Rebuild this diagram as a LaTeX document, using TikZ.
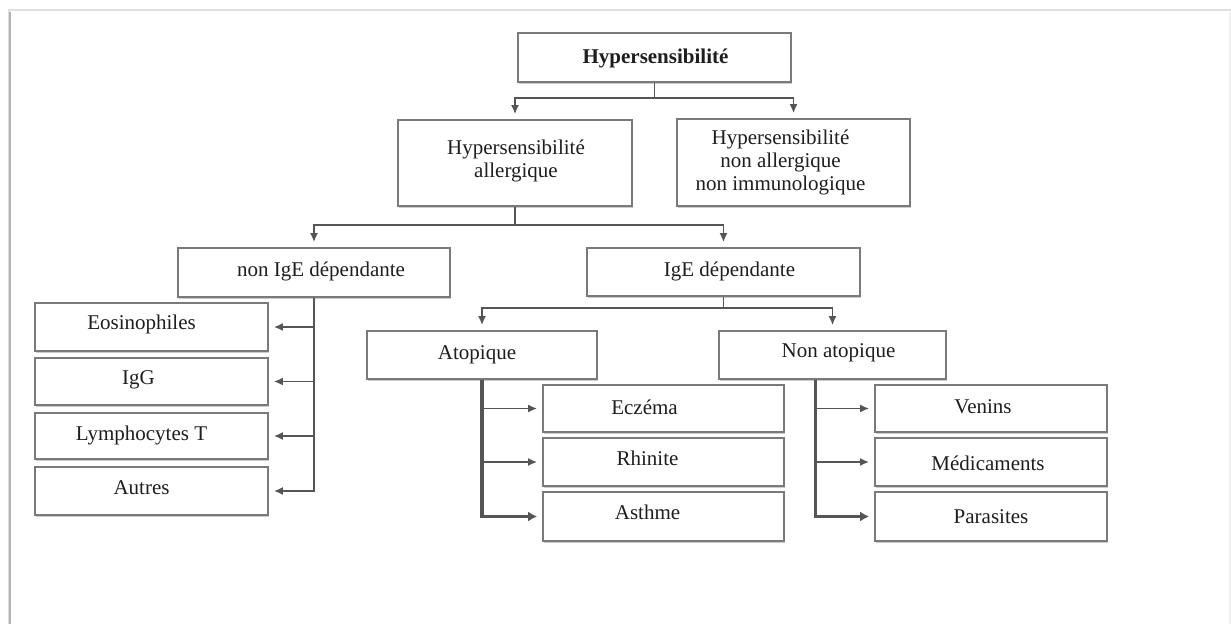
\documentclass[tikz,border=0pt]{standalone}
\usepackage{fontspec}
\setmainfont{Liberation Serif}
\usetikzlibrary{arrows.meta,shadows,calc}
\definecolor{boxline}{HTML}{7A7A7A}
\definecolor{arrline}{HTML}{555555}
\definecolor{txt}{HTML}{1E1E1E}
\tikzset{
  box/.style={draw=boxline, line width=1.7pt, fill=white, inner sep=0pt,
    drop shadow={shadow xshift=0.8pt, shadow yshift=-1.8pt, opacity=0.4}},
  lab/.style={text=txt, font=\fontsize{21}{23}\selectfont, align=center, inner sep=0pt},
  stem/.style={draw=arrline, line width=1.8pt},
  arr/.style={draw=arrline, line width=1.8pt, -{Latex[length=9pt,width=8pt]}},
  thickarr/.style={draw=arrline, line width=3.2pt, -{Latex[length=9pt,width=10pt]}},
}
% \bx{name}{cx}{cy}{w}{h}{dx}{dy}{text}
\newcommand{\bx}[8]{%
  \node[box, minimum width=#4pt, minimum height=#5pt,
        label={[lab, xshift=#6pt, yshift=#7pt]center:#8}] (#1) at (#2,#3) {};}
\begin{document}
\begin{tikzpicture}[x=1pt,y=-1pt]
\useasboundingbox (0,0) rectangle (1231,624);
% outer frame
\draw[black!12, line width=2.5pt] (9,624) -- (9,10) -- (1231,10);
\draw[black!30, line width=2pt] (10,12) -- (10,624);
\draw[black!6, line width=2pt] (1230,12) -- (1230,624);
% boxes
\bx{top}{654.5}{57.5}{273}{49}{1}{-1}{\textbf{Hypersensibilité}}
\bx{allerg}{515}{163}{234}{86}{1}{2}{Hypersensibilité\\allergique}
\bx{nonall}{793.5}{162.5}{233}{87}{-13}{0}{Hypersensibilité\\non allergique\\non immunologique}
\bx{nonige}{314}{272.5}{272}{49}{7}{1}{non IgE dépendante}
\bx{ige}{723.5}{272}{273}{48}{6}{1}{IgE dépendante}
\bx{eos}{151.5}{327}{233}{48}{-10}{3}{Eosinophiles}
\bx{igg}{151.5}{381.5}{233}{47}{-13}{2}{IgG}
\bx{lym}{151.5}{436}{233}{46}{-10}{1}{Lymphocytes T}
\bx{aut}{151.5}{491}{233}{48}{-10}{3}{Autres}
\bx{atop}{482}{355}{230}{48}{-5}{0}{Atopique}
\bx{nonatop}{832.5}{355}{227}{48}{6}{2}{Non atopique}
\bx{ecz}{663.5}{408.5}{241}{47}{-19}{1}{Eczéma}
\bx{rhi}{663.5}{462}{241}{48}{-16}{4}{Rhinite}
\bx{ast}{663.5}{516.5}{241}{49}{-16}{4}{Asthme}
\bx{ven}{991}{408.5}{232}{47}{-8}{2}{Venins}
\bx{med}{991}{462}{232}{48}{-3}{-1}{Médicaments}
\bx{par}{991}{516.5}{232}{49}{0}{0}{Parasites}
% connectors
\draw[stem] (top.south) -- ++(0,15) coordinate (tj);
\draw[arr, shorten >=5pt] (tj) -| (allerg.north);
\draw[arr, shorten >=5pt] (tj) -| (nonall.north);
\draw[stem] (allerg.south) -- ++(0,18) coordinate (aj);
\draw[arr, shorten >=5pt] (aj) -| (nonige.north);
\draw[arr, shorten >=5pt] (aj) -| (ige.north);
\draw[stem] (ige.south) -- ++(0,11) coordinate (ij);
\draw[arr, shorten >=5pt] (ij) -| (atop.north);
\draw[arr, shorten >=5pt] (ij) -| (nonatop.north);
% non IgE branches
\draw[arr, shorten >=5pt] (nonige.south) |- (eos.east);
\draw[arr, shorten >=5pt] (nonige.south) |- (igg.east);
\draw[arr, shorten >=5pt] (nonige.south) |- (lym.east);
\draw[arr, shorten >=5pt] (nonige.south) |- (aut.east);
% atopique branches
\draw[arr, shorten >=5pt] (atop.south) |- (ecz.west);
\draw[arr, shorten >=5pt] (atop.south) |- (rhi.west);
\draw[thickarr, shorten >=5pt] (atop.south) |- (ast.west);
% non atopique branches
\coordinate (nas) at ($(nonatop.south west)!0.427!(nonatop.south east)$);
\draw[arr, shorten >=5pt] (nas) |- (ven.west);
\draw[arr, shorten >=5pt] (nas) |- (med.west);
\draw[thickarr, shorten >=5pt] (nas) |- (par.west);
\end{tikzpicture}
\end{document}
